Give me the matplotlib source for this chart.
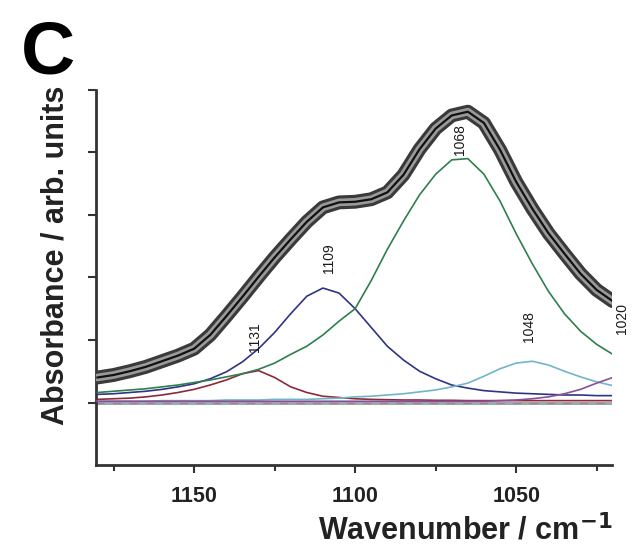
import numpy as np
import matplotlib.pyplot as plt

# wavenumber grid (cm-1), read every 5 cm-1
wn = [1180, 1175, 1170, 1165, 1160, 1155, 1150, 1145, 1140, 1135, 1130,
      1125, 1120, 1115, 1110, 1105, 1100, 1095, 1090, 1085, 1080, 1075,
      1070, 1065, 1060, 1055, 1050, 1045, 1040, 1035, 1030, 1025, 1020]

# measured spectrum
total = [0.40, 0.44, 0.50, 0.57, 0.66, 0.75, 0.86, 1.08, 1.38, 1.69, 2.01,
         2.32, 2.61, 2.89, 3.12, 3.20, 3.21, 3.25, 3.36, 3.64, 4.05, 4.38,
         4.59, 4.65, 4.47, 4.04, 3.53, 3.10, 2.71, 2.38, 2.06, 1.80, 1.62]

# fitted bands
band_1131 = [0.05, 0.06, 0.07, 0.09, 0.12, 0.16, 0.21, 0.28, 0.36, 0.46, 0.51,
             0.40, 0.25, 0.16, 0.10, 0.08, 0.06, 0.05, 0.045, 0.04, 0.04, 0.035,
             0.035, 0.03, 0.03, 0.03, 0.03, 0.03, 0.03, 0.03, 0.03, 0.03, 0.03]
band_1109 = [0.13, 0.14, 0.16, 0.18, 0.21, 0.25, 0.30, 0.38, 0.49, 0.65, 0.86,
             1.12, 1.42, 1.70, 1.83, 1.75, 1.50, 1.20, 0.90, 0.68, 0.50, 0.38,
             0.28, 0.23, 0.19, 0.17, 0.15, 0.14, 0.13, 0.12, 0.12, 0.11, 0.11]
band_1068 = [0.16, 0.18, 0.20, 0.22, 0.25, 0.28, 0.32, 0.36, 0.41, 0.46, 0.53,
             0.63, 0.77, 0.90, 1.08, 1.30, 1.50, 1.95, 2.45, 2.90, 3.32, 3.65,
             3.88, 3.90, 3.65, 3.22, 2.70, 2.22, 1.78, 1.42, 1.14, 0.93, 0.77]
band_1048 = [0.02, 0.02, 0.02, 0.02, 0.03, 0.03, 0.03, 0.03, 0.04, 0.04, 0.04,
             0.05, 0.05, 0.05, 0.06, 0.07, 0.09, 0.10, 0.12, 0.14, 0.17, 0.20,
             0.25, 0.31, 0.42, 0.54, 0.63, 0.66, 0.60, 0.50, 0.41, 0.33, 0.27]
band_1020 = [0.02, 0.02, 0.02, 0.02, 0.02, 0.02, 0.02, 0.02, 0.02, 0.02, 0.02,
             0.02, 0.02, 0.02, 0.02, 0.02, 0.02, 0.02, 0.02, 0.02, 0.02, 0.02,
             0.02, 0.02, 0.02, 0.03, 0.04, 0.06, 0.09, 0.14, 0.21, 0.31, 0.40]

# band labels: text, x position, y of the label start
peak_labels = ["1131", "1109", "1068", "1048", "1020"]
peak_x = [1131, 1108, 1067.5, 1046, 1017]
peak_y = [0.80, 2.07, 3.96, 0.96, 1.10]

plt.rcParams['font.family'] = ['Liberation Sans', 'DejaVu Sans']
fig = plt.figure(figsize=(6.33, 5.51), dpi=100)
ax = fig.add_axes([0.152, 0.156, 0.815, 0.681])

ax.axhline(0, color='#9aabab', lw=2.2, zorder=1)
ax.axhline(-0.015, color='#b07a95', lw=1.0, ls=(0, (6, 6)), zorder=1)

kw = dict(lw=1.2, zorder=3, solid_joinstyle='round')
ax.plot(wn, band_1131, color='#8b2a3a', **kw)
ax.plot(wn, band_1109, color='#2f3484', **kw)
ax.plot(wn, band_1068, color='#2f7f4e', **kw)
ax.plot(wn, band_1048, color='#72b5c6', **kw)
ax.plot(wn, band_1020, color='#8a4f9a', **kw)

# thick measured trace (overlapping open circles) with the fit sum inside
ax.plot(wn, total, color='#3a3a3a', lw=10, solid_capstyle='round',
        solid_joinstyle='round', zorder=4)
ax.plot(wn, total, color='#9a9a9a', lw=5.5, solid_capstyle='round',
        solid_joinstyle='round', zorder=5)
ax.plot(wn, total, color='#111111', lw=1.6, solid_joinstyle='round', zorder=6)

for lab, px, py in zip(peak_labels, peak_x, peak_y):
    ax.text(px, py, lab, rotation=90, ha='center', va='bottom',
            fontsize=10, color='#1a1a1a', clip_on=False, zorder=7)

ax.set_xlim(1180.4, 1020.2)
ax.set_ylim(-1.0, 5.0)
ax.set_xticks([1150, 1100, 1050])
ax.set_xticks([1175, 1125, 1075, 1025], minor=True)
ax.set_yticks([0, 1, 2, 3, 4, 5])
ax.set_yticklabels([])
ax.tick_params(axis='x', which='major', length=6, width=1.5, color='#333333',
               labelsize=15.5, pad=9)
ax.tick_params(axis='x', which='minor', length=4, width=1.5, color='#333333')
ax.tick_params(axis='y', which='major', length=6, width=1.5, color='#333333')
for lbl in ax.get_xticklabels():
    lbl.set_fontweight('bold')
    lbl.set_color('#222222')

for side in ['top', 'right']:
    ax.spines[side].set_visible(False)
for side in ['left', 'bottom']:
    ax.spines[side].set_linewidth(2)
    ax.spines[side].set_color('#333333')

ax.set_xlabel('Wavenumber / cm$^{\\mathbf{-1}}$', fontsize=22, fontweight='bold',
              color='#222222', ha='right', va='center')
ax.xaxis.set_label_coords(1.0, -0.175)
ax.set_ylabel('Absorbance / arb. units', fontsize=22, fontweight='bold',
              color='#222222', va='center')
ax.yaxis.set_label_coords(-0.078, 0.56)

fig.text(0.033, 0.965, 'C', fontsize=54, fontweight='bold', va='top', ha='left')

fig.savefig('out.png', dpi=100)
